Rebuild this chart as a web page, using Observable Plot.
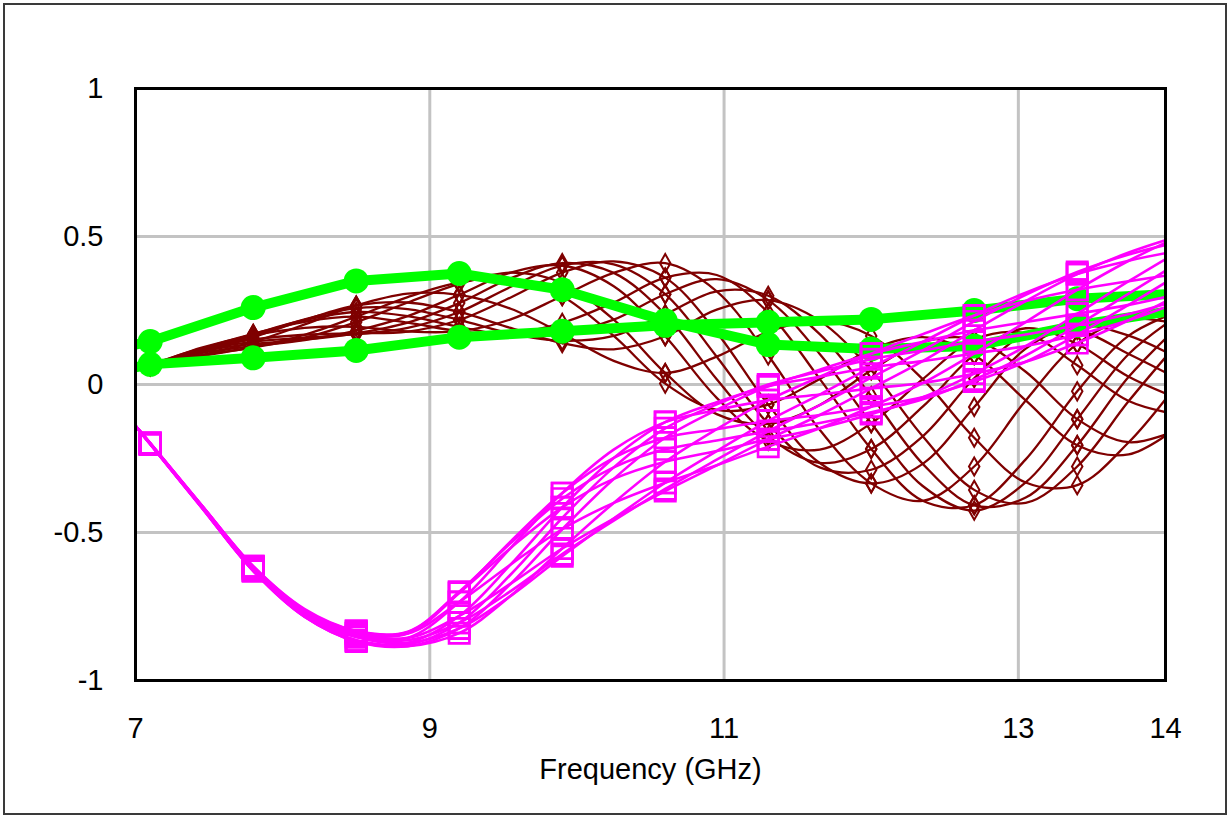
<!DOCTYPE html>
<html><head><meta charset="utf-8">
<script src="https://cdn.jsdelivr.net/npm/d3@7"></script>
<script src="https://cdn.jsdelivr.net/npm/@observablehq/plot@0.6"></script>
<style>
html,body{margin:0;padding:0;background:#fff;}
#wrap{position:relative;width:1230px;height:818px;overflow:hidden;}
#border{position:absolute;left:3px;top:3px;width:1224px;height:812px;border:2px solid #3a3a3a;box-sizing:border-box;pointer-events:none;}
</style></head>
<body><div id="wrap"><div id="chart"></div><div id="border"></div></div>
<script>
// Frequency grid (GHz) shared by the brown and magenta families
const xs = [7.0, 7.1, 7.45, 7.8, 8.15, 8.5, 8.85, 9.2, 9.55, 9.9, 10.25, 10.6, 10.95, 11.3, 11.65, 12.0, 12.35, 12.7, 13.05, 13.4, 13.75, 14.1];
const markerX = [7.1, 7.8, 8.5, 9.2, 9.9, 10.6, 11.3, 12.0, 12.7, 13.4];

// Brown family
const brown1  = [0.065, 0.064, 0.099, 0.125, 0.158, 0.211, 0.277, 0.340, 0.378, 0.343, 0.219, 0.039, -0.100, -0.133, -0.069, 0.048, 0.143, 0.152, 0.043, -0.117, -0.195, -0.150];
const brown2  = [0.065, 0.067, 0.107, 0.130, 0.150, 0.182, 0.231, 0.303, 0.378, 0.402, 0.332, 0.163, -0.045, -0.190, -0.220, -0.131, 0.018, 0.152, 0.172, 0.065, -0.056, -0.103];
const brown3  = [0.065, 0.069, 0.118, 0.144, 0.158, 0.170, 0.191, 0.245, 0.330, 0.402, 0.406, 0.305, 0.094, -0.133, -0.280, -0.288, -0.175, 0.021, 0.172, 0.184, 0.103, 0.015];
const brown4  = [0.065, 0.069, 0.122, 0.152, 0.168, 0.173, 0.179, 0.218, 0.294, 0.378, 0.416, 0.361, 0.176, -0.068, -0.265, -0.334, -0.268, -0.076, 0.121, 0.200, 0.165, 0.085];
const brown5  = [0.065, 0.068, 0.125, 0.166, 0.191, 0.195, 0.179, 0.180, 0.220, 0.299, 0.377, 0.410, 0.315, 0.098, -0.153, -0.334, -0.393, -0.277, -0.054, 0.137, 0.220, 0.203];
const brown6  = [0.065, 0.066, 0.121, 0.171, 0.212, 0.229, 0.209, 0.180, 0.172, 0.208, 0.277, 0.361, 0.370, 0.243, 0.019, -0.218, -0.393, -0.408, -0.253, -0.023, 0.165, 0.250];
const brown7  = [0.065, 0.064, 0.118, 0.170, 0.218, 0.245, 0.231, 0.195, 0.165, 0.172, 0.219, 0.305, 0.356, 0.285, 0.103, -0.131, -0.343, -0.426, -0.331, -0.117, 0.103, 0.238];
const brown8  = [0.065, 0.062, 0.107, 0.160, 0.218, 0.267, 0.277, 0.245, 0.191, 0.140, 0.119, 0.163, 0.253, 0.285, 0.215, 0.048, -0.175, -0.356, -0.400, -0.277, -0.056, 0.150];
const brown9  = [0.065, 0.061, 0.099, 0.144, 0.203, 0.267, 0.307, 0.303, 0.256, 0.172, 0.080, 0.039, 0.094, 0.178, 0.215, 0.164, 0.018, -0.180, -0.331, -0.340, -0.195, 0.015];
const brown10 = [0.065, 0.063, 0.096, 0.126, 0.168, 0.229, 0.295, 0.345, 0.359, 0.298, 0.164, 0.003, -0.086, -0.068, 0.019, 0.118, 0.160, 0.100, -0.054, -0.205, -0.236, -0.138];
const brown11 = [0.065, 0.063, 0.113, 0.166, 0.220, 0.258, 0.255, 0.218, 0.172, 0.148, 0.164, 0.237, 0.315, 0.300, 0.170, -0.039, -0.268, -0.408, -0.382, -0.205, 0.026, 0.203];
const brown12 = [0.065, 0.068, 0.113, 0.137, 0.152, 0.173, 0.209, 0.275, 0.359, 0.410, 0.377, 0.237, 0.018, -0.175, -0.265, -0.218, -0.075, 0.100, 0.190, 0.137, 0.026, -0.050];

// Magenta family
const mag1  = [-0.140, -0.202, -0.416, -0.628, -0.778, -0.853, -0.856, -0.735, -0.552, -0.367, -0.220, -0.127, -0.086, -0.053, -0.034, -0.013, 0.005, 0.037, 0.077, 0.140, 0.217, 0.307];
const mag2  = [-0.140, -0.201, -0.414, -0.623, -0.770, -0.841, -0.841, -0.704, -0.530, -0.367, -0.248, -0.180, -0.151, -0.123, -0.103, -0.075, -0.043, 0.010, 0.077, 0.168, 0.269, 0.375];
const mag3  = [-0.140, -0.200, -0.411, -0.618, -0.762, -0.833, -0.835, -0.704, -0.552, -0.415, -0.319, -0.261, -0.225, -0.185, -0.148, -0.100, -0.043, 0.037, 0.130, 0.239, 0.349, 0.453];
const mag4  = [-0.140, -0.199, -0.409, -0.614, -0.759, -0.833, -0.841, -0.735, -0.608, -0.489, -0.400, -0.332, -0.273, -0.210, -0.148, -0.075, 0.005, 0.105, 0.211, 0.320, 0.418, 0.503];
const mag5  = [-0.140, -0.198, -0.408, -0.614, -0.762, -0.841, -0.856, -0.782, -0.673, -0.554, -0.453, -0.360, -0.273, -0.185, -0.103, -0.013, 0.079, 0.183, 0.282, 0.373, 0.446, 0.503];
const mag6  = [-0.140, -0.198, -0.409, -0.618, -0.770, -0.853, -0.873, -0.824, -0.714, -0.580, -0.453, -0.332, -0.225, -0.123, -0.034, 0.058, 0.144, 0.233, 0.310, 0.373, 0.418, 0.453];
const mag7  = [-0.140, -0.199, -0.411, -0.623, -0.778, -0.864, -0.884, -0.840, -0.714, -0.554, -0.400, -0.261, -0.151, -0.053, 0.026, 0.104, 0.170, 0.233, 0.282, 0.320, 0.349, 0.375];
const mag8  = [-0.140, -0.200, -0.414, -0.628, -0.784, -0.868, -0.884, -0.824, -0.673, -0.489, -0.319, -0.180, -0.086, -0.006, 0.050, 0.104, 0.144, 0.183, 0.211, 0.239, 0.269, 0.307];
const mag9  = [-0.140, -0.202, -0.416, -0.630, -0.784, -0.864, -0.873, -0.782, -0.608, -0.415, -0.248, -0.127, -0.060, -0.006, 0.026, 0.058, 0.079, 0.105, 0.130, 0.168, 0.217, 0.280];
const mag10 = [-0.140, -0.201, -0.413, -0.621, -0.766, -0.836, -0.837, -0.700, -0.536, -0.386, -0.280, -0.219, -0.189, -0.158, -0.130, -0.094, -0.050, 0.017, 0.098, 0.200, 0.307, 0.415];
const mag11 = [-0.140, -0.198, -0.408, -0.616, -0.766, -0.847, -0.864, -0.805, -0.698, -0.573, -0.460, -0.353, -0.254, -0.158, -0.070, 0.023, 0.115, 0.213, 0.303, 0.380, 0.439, 0.483];
const mag12 = [-0.140, -0.201, -0.415, -0.630, -0.785, -0.867, -0.879, -0.805, -0.642, -0.451, -0.280, -0.148, -0.067, 0.000, 0.044, 0.085, 0.115, 0.145, 0.169, 0.200, 0.238, 0.287];

// Green (two thick traces)
const greenX = [7.0, 7.1, 7.8, 8.5, 9.2, 9.9, 10.6, 11.3, 12.0, 12.7, 13.4, 14.0];
const greenA = [0.135, 0.145, 0.26, 0.35, 0.375, 0.32, 0.215, 0.135, 0.12, 0.13, 0.2, 0.245];
const greenB = [0.058, 0.068, 0.09, 0.115, 0.16, 0.18, 0.2, 0.21, 0.22, 0.25, 0.29, 0.305];

// Axes
const xTicks = [7, 9, 11, 13, 14];
const xTickLabels = ["7", "9", "11", "13", "14"];
const yTicks = [-1, -0.5, 0, 0.5, 1];
const yTickLabels = ["-1", "-0.5", "0", "0.5", "1"];
const xGrid = [9, 11, 13];
const yGrid = [-0.5, 0, 0.5];
const xTitle = "Frequency (GHz)";

const brownSeries = [brown1, brown2, brown3, brown4, brown5, brown6, brown7, brown8, brown9, brown10, brown11, brown12];
const magSeries = [mag1, mag2, mag3, mag4, mag5, mag6, mag7, mag8, mag9, mag10, mag11, mag12];

const rowsOf = (series, name, xv) => series.flatMap((vals, k) => vals.map((v, i) => ({x: xv[i], y: v, s: name + k})));
const isMarker = x => markerX.some(m => Math.abs(m - x) < 1e-9);

const brownRows = rowsOf(brownSeries, "b", xs);
const magRows = rowsOf(magSeries, "m", xs);
const greenRows = rowsOf([greenA, greenB], "g", greenX);

const chart = Plot.plot({
  width: 1230,
  height: 818,
  marginLeft: 135,
  marginRight: 65,
  marginTop: 88,
  marginBottom: 138,
  style: {fontFamily: "'Liberation Sans', Arial, sans-serif", fontSize: "29px", background: "white", color: "black", overflow: "visible"},
  x: {domain: [7, 14]},
  y: {domain: [-1, 1]},
  marks: [
    Plot.gridX(xGrid, {stroke: "#c3c3c3", strokeOpacity: 1, strokeWidth: 3}),
    Plot.gridY(yGrid, {stroke: "#c3c3c3", strokeOpacity: 1, strokeWidth: 3}),
    Plot.line(brownRows, {x: "x", y: "y", z: "s", stroke: "#7f0000", strokeWidth: 2.3, curve: "catmull-rom", clip: true}),
    Plot.dot(brownRows.filter(d => isMarker(d.x)), {x: "x", y: "y", symbol: "diamond", r: 5.5, stroke: "#7f0000", strokeWidth: 2, fill: "none"}),
    Plot.line(greenRows, {x: "x", y: "y", z: "s", stroke: "#00ff00", strokeWidth: 10, strokeLinejoin: "round", strokeLinecap: "butt", clip: true}),
    Plot.dot(greenRows.filter(d => isMarker(d.x)), {x: "x", y: "y", r: 12.5, fill: "#00ff00", stroke: "none"}),
    Plot.line(magRows, {x: "x", y: "y", z: "s", stroke: "#ff00ff", strokeWidth: 2.6, curve: "catmull-rom", clip: true}),
    Plot.dot(magRows.filter(d => isMarker(d.x)), {x: "x", y: "y", symbol: "square", r: 11.5, stroke: "#ff00ff", strokeWidth: 2.6, fill: "none"}),
    Plot.frame({stroke: "black", strokeWidth: 3}),
    Plot.axisX(xTicks, {tickSize: 0, tickPadding: 37, tickFormat: d => xTickLabels[xTicks.indexOf(d)], label: xTitle, labelAnchor: "center", labelOffset: 98, labelArrow: "none"}),
    Plot.axisY(yTicks, {tickSize: 0, tickPadding: 32, tickFormat: d => yTickLabels[yTicks.indexOf(d)], label: null})
  ]
});
document.getElementById("chart").appendChild(chart);
</script>
</body></html>
